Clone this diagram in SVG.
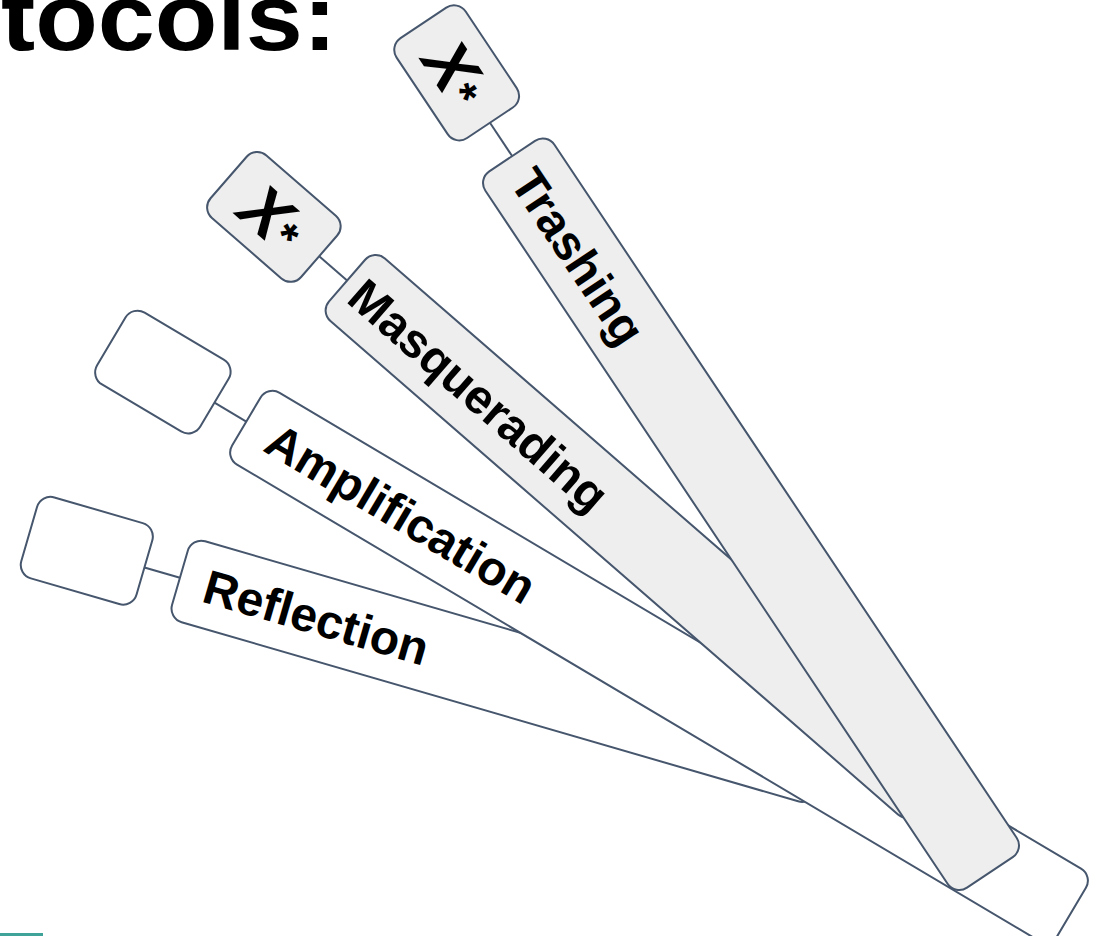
<svg xmlns="http://www.w3.org/2000/svg" width="1102" height="936" viewBox="0 0 1102 936">
<style>
.shape{stroke:#46566d;stroke-width:2;}
.w{fill:#ffffff;}
.g{fill:#eeeeee;}
.conn{stroke:#46566d;stroke-width:2;fill:none;}
.lbl{font-family:"Liberation Sans",Arial,sans-serif;font-weight:bold;font-size:48px;fill:#000;}
.x{font-family:"Liberation Sans",Arial,sans-serif;font-weight:bold;fill:#000;}
.title{font-family:"Liberation Sans",Arial,sans-serif;font-weight:bold;font-size:94px;fill:#000;}
</style>
<rect width="1102" height="936" fill="#ffffff"/>
<text class="title" x="1" y="50" textLength="336" lengthAdjust="spacingAndGlyphs">tocols:</text>
<rect x="0" y="933" width="43" height="3" fill="#3fa39a"/>
<g id="connectors">
  <line class="conn" transform="rotate(16.2)" x1="297" y1="504.6" x2="334" y2="504.6"/>
  <line class="conn" transform="rotate(30.7)" x1="390" y1="236.7" x2="427" y2="236.7"/>
  <line class="conn" transform="rotate(41)" x1="409" y1="-16" x2="446" y2="-16"/>
  <line class="conn" transform="rotate(56.3)" x1="374" y1="-339.5" x2="414" y2="-339.5"/>
</g>
<g id="box-reflection" transform="rotate(16.2)">
  <rect class="shape w" x="177" y="462.5" width="120" height="84.3" rx="14"/>
</g>
<g id="box-amplification" transform="rotate(30.7)">
  <rect class="shape w" x="270" y="195" width="120" height="83.5" rx="14"/>
</g>
<g id="box-masquerading" transform="rotate(41)">
  <rect class="shape g" x="289" y="-57.5" width="120" height="83" rx="14"/>
  <text class="x" x="349" y="8" text-anchor="middle"><tspan font-size="66" font-style="italic">X</tspan><tspan font-size="46">*</tspan></text>
</g>
<g id="box-trashing" transform="rotate(56.3)">
  <rect class="shape g" x="254" y="-381" width="120" height="83" rx="14"/>
  <text class="x" x="314" y="-316" text-anchor="middle"><tspan font-size="66" font-style="italic">X</tspan><tspan font-size="46">*</tspan></text>
</g>
<g id="reflection" transform="rotate(16.2)">
  <rect class="shape w" x="334" y="462.5" width="670" height="84.3" rx="14"/>
  <text class="lbl" x="360" y="521.5">Reflection</text>
</g>
<g id="amplification" transform="rotate(30.7)">
  <rect class="shape w" x="427" y="195" width="960" height="83.5" rx="14"/>
  <text class="lbl" x="455" y="253.5">Amplification</text>
</g>
<g id="masquerading" transform="rotate(41)">
  <rect class="shape g" x="446" y="-57.5" width="780" height="83" rx="14"/>
  <text class="lbl" x="458" y="1">Masquerading</text>
</g>
<g id="trashing" transform="rotate(56.3)">
  <rect class="shape g" x="414" y="-381" width="861" height="83" rx="14"/>
  <text class="lbl" x="434" y="-322">Trashing</text>
</g>
</svg>
